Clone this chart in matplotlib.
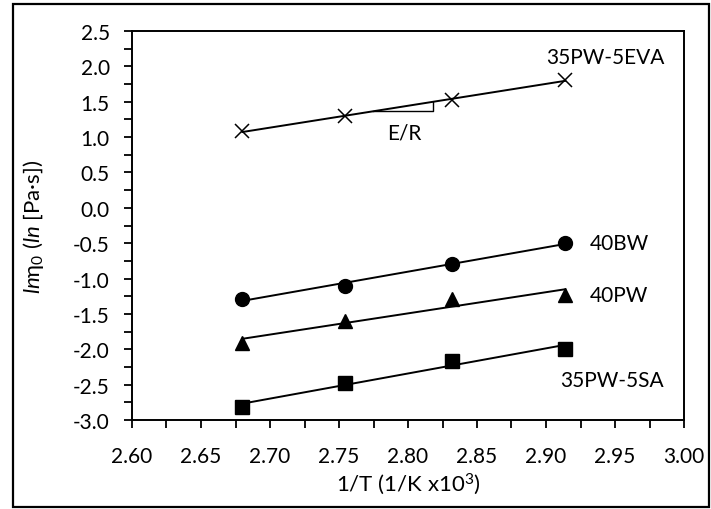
import numpy as np
import matplotlib
matplotlib.use('Agg')
import matplotlib.pyplot as plt
from matplotlib.patches import Rectangle
from matplotlib.ticker import MultipleLocator, FormatStrFormatter

plt.rcParams['font.family'] = ['Lato', 'DejaVu Sans']
plt.rcParams['mathtext.fontset'] = 'custom'
plt.rcParams['mathtext.rm'] = 'Lato'
plt.rcParams['mathtext.it'] = 'Lato:italic'
plt.rcParams['mathtext.fallback'] = 'stixsans'

# 1/T (1/K x10^3) for 100, 90, 80, 70 C
inv_T = [2.680, 2.754, 2.832, 2.914]

eva = [1.08, 1.30, 1.52, 1.81]
bw = [-1.29, -1.10, -0.79, -0.50]
pw = [-1.91, -1.60, -1.29, -1.23]
sa = [-2.81, -2.48, -2.16, -1.99]

names = ['35PW-5EVA', '40BW', '40PW', '35PW-5SA']
markers = ['x', 'o', '^', 's']

fig = plt.figure(figsize=(7.11, 5.10), dpi=100)
ax = fig.add_axes([132 / 711, 1 - 421 / 510, 552 / 711, 389 / 510])

x = np.array(inv_T)
fits = []
for y, m in zip([eva, bw, pw, sa], markers):
    k, b = np.polyfit(x, y, 1)
    fits.append((k, b))
    ax.plot(x, k * x + b, color='black', lw=1.4, zorder=2)
    if m == 'x':
        ax.plot(x, y, linestyle='none', marker=m, ms=10, mew=1.1, color='black', zorder=3)
    else:
        ax.plot(x, y, linestyle='none', marker=m, ms=10, color='black', zorder=3)

# E/R slope triangle on the EVA trendline
k, b = fits[0]
x0, x1 = 2.775, 2.818
ax.plot([x0, x1, x1], [k * x0 + b, k * x0 + b, k * x1 + b], color='black', lw=1.0)
ax.text(2.797, 1.07, 'E/R', ha='center', va='center', fontsize=15)

ax.text(2.943, 2.13, names[0], ha='center', va='center', fontsize=15)
ax.text(2.932, -0.50, names[1], ha='left', va='center', fontsize=15)
ax.text(2.932, -1.23, names[2], ha='left', va='center', fontsize=15)
ax.text(2.910, -2.43, names[3], ha='left', va='center', fontsize=15)

ax.set_xlim(2.60, 3.00)
ax.set_ylim(-3.0, 2.5)
ax.xaxis.set_major_locator(MultipleLocator(0.05))
ax.xaxis.set_minor_locator(MultipleLocator(0.025))
ax.yaxis.set_major_locator(MultipleLocator(0.5))
ax.yaxis.set_minor_locator(MultipleLocator(0.25))
ax.xaxis.set_major_formatter(FormatStrFormatter('%.2f'))
ax.yaxis.set_major_formatter(FormatStrFormatter('%.1f'))
ax.tick_params(which='both', direction='out', length=6, width=1.3, labelsize=15)
ax.tick_params(axis='x', which='major', pad=13)
ax.tick_params(axis='y', which='major', pad=10)

for sp in ax.spines.values():
    sp.set_linewidth(1.4)

ax.set_xlabel(r'1/T (1/K x10$^{3}$)', fontsize=16)
ax.set_ylabel(r'$\mathit{ln}\mathrm{\eta}_{0}$ ($\mathit{ln}$ [Pa·s])', fontsize=16)
ax.xaxis.set_label_coords(0.5, -0.131)
ax.yaxis.set_label_coords(-0.156, 0.5)

fig.patches.append(Rectangle((13 / 711, 2 / 510), 696 / 711, 503 / 510,
                             transform=fig.transFigure, fill=False,
                             edgecolor='black', lw=1.6))

fig.savefig('out.png', dpi=100)
